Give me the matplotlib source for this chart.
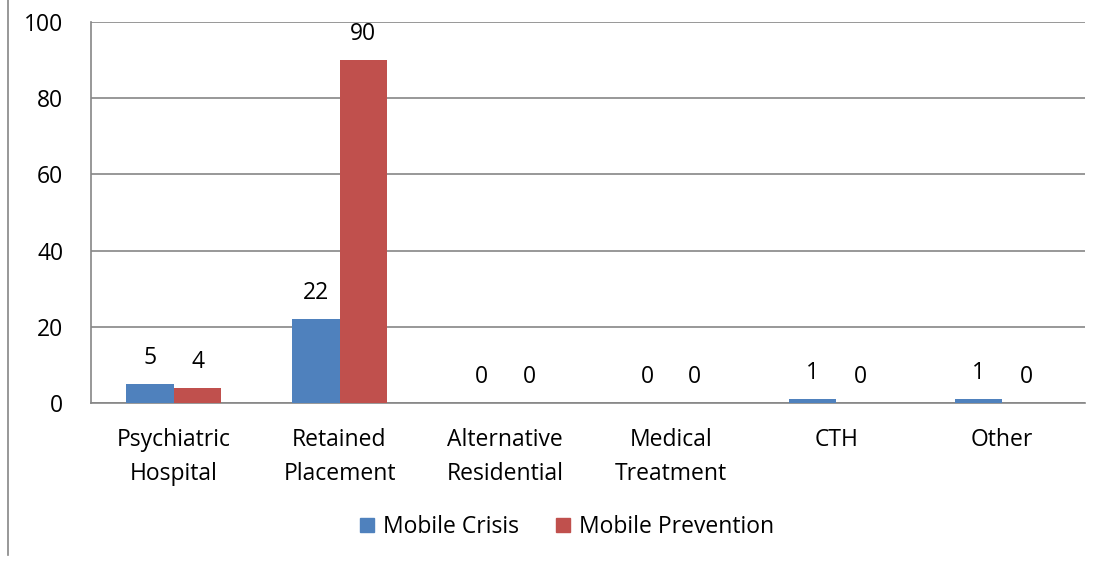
import numpy as np
import matplotlib.pyplot as plt
from matplotlib.lines import Line2D
from matplotlib.patches import Patch

# Data
categories = ["Psychiatric\nHospital", "Retained\nPlacement", "Alternative\nResidential",
              "Medical\nTreatment", "CTH", "Other"]
mobile_crisis = [5, 22, 0, 0, 1, 1]
mobile_prevention = [4, 90, 0, 0, 0, 0]
series_names = ["Mobile Crisis", "Mobile Prevention"]

plt.rcParams['font.family'] = ['Open Sans', 'DejaVu Sans']

blue = '#4F81BD'
red = '#C0504D'
grid_col = '#868686'
fs = 16.5

fig = plt.figure(figsize=(11.05, 5.61), dpi=100)
ax = fig.add_axes([91/1105, 1-403/561, 994/1105, 381/561])

x = np.arange(len(categories))
w = 0.287
b1 = ax.bar(x - w/2, mobile_crisis, w, color=blue, zorder=3)
b2 = ax.bar(x + w/2, mobile_prevention, w, color=red, zorder=3)

# value labels above bars
for bars, vals in [(b1, mobile_crisis), (b2, mobile_prevention)]:
    for rect, v in zip(bars, vals):
        ax.annotate(str(v), (rect.get_x() + rect.get_width()/2, v),
                    xytext=(0, 14), textcoords='offset pixels',
                    ha='center', va='bottom', fontsize=fs)

ax.set_xlim(-0.5, len(categories) - 0.5)
ax.set_ylim(0, 100)
ax.set_yticks(range(0, 101, 20))
ax.set_xticks(x)
ax.set_xticklabels(categories, fontsize=fs, linespacing=1.55)
ax.tick_params(axis='y', labelsize=fs, length=0, pad=20)
ax.tick_params(axis='x', length=0, pad=18)

ax.yaxis.grid(True, color=grid_col, linewidth=1.2, zorder=0)
for s in ['top', 'right']:
    ax.spines[s].set_visible(False)
ax.spines['left'].set_color(grid_col)
ax.spines['bottom'].set_color(grid_col)
ax.spines['left'].set_linewidth(1.2)
ax.spines['bottom'].set_linewidth(1.2)

handles = [Patch(color=blue), Patch(color=red)]
fig.legend(handles, series_names, loc='center', bbox_to_anchor=(567/1105, 1-527/561),
           ncol=2, frameon=False, fontsize=fs, handlelength=0.6, handleheight=0.6,
           handletextpad=0.4, columnspacing=1.6)

# thin border line at the left edge
fig.add_artist(Line2D([8/1105, 8/1105], [1-555/561, 1], transform=fig.transFigure,
                      color=grid_col, linewidth=1.2))

fig.savefig('out.png', dpi=100)
